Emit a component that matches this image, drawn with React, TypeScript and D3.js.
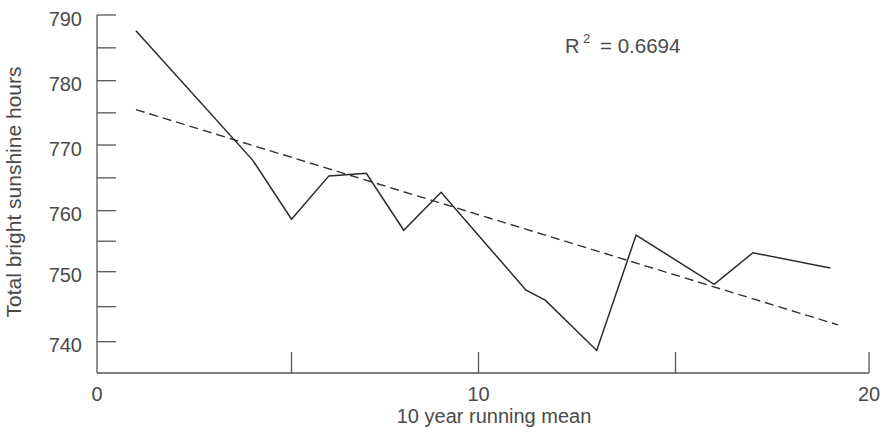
import React from "react";
import * as d3 from "d3";

// 10-year running mean of total bright sunshine hours
const meanIndex = [1, 4, 5, 6, 7, 8, 9, 11.2, 11.7, 13, 14, 16, 17, 19];
const sunshineHours = [787.6, 767.7, 758.6, 765.3, 765.7, 756.8, 762.8, 747.4, 745.9, 738.6, 756.0, 748.2, 753.1, 750.6];

// Linear trend line end points
const trendIndex = [1, 19.2];
const trendHours = [775.5, 742.4];

const xTickValues = [0, 5, 10, 15, 20];
const xTickLabels = ["0", "", "10", "", "20"];
const yMajorTicks = [740, 750, 760, 770, 780, 790];
const yMinorTicks = [745, 755, 765, 775, 785];
const rSquared = "0.6694";

const WIDTH = 889;
const HEIGHT = 443;
const FONT = "'Liberation Sans', Arial, Helvetica, sans-serif";
const AXIS_COLOR = "#555";
const TEXT_COLOR = "#4a4a4a";

export default function App() {
  // Calibrated (polylinear) scales following the printed axis divisions
  const x = d3
    .scaleLinear()
    .domain([0, 5, 10, 15, 20])
    .range([97, 291.5, 478.5, 675.5, 869]);
  const y = d3
    .scaleLinear()
    .domain([735, 740, 750, 760, 770, 780, 790])
    .range([373, 341.7, 271.7, 210.7, 145, 80.7, 15]);

  const line = d3
    .line<[number, number]>()
    .x((d) => x(d[0]))
    .y((d) => y(d[1]));

  const series: [number, number][] = meanIndex.map((m, i) => [m, sunshineHours[i]]);
  const trend: [number, number][] = trendIndex.map((m, i) => [m, trendHours[i]]);

  const x0 = x(0);
  const y0 = y(735);
  const tickLen = 19;

  return (
    <svg
      width={WIDTH}
      height={HEIGHT}
      style={{ position: "absolute", left: 0, top: 0, background: "#fff" }}
      fontFamily={FONT}
    >
      {/* axes */}
      <line x1={x0} y1={y(790)} x2={x0} y2={y0} stroke={AXIS_COLOR} strokeWidth={1.3} />
      <line x1={x0} y1={y0} x2={x(20)} y2={y0} stroke={AXIS_COLOR} strokeWidth={1.3} />

      {/* y ticks, drawn inward */}
      {[...yMajorTicks, ...yMinorTicks].map((t) => (
        <line key={`yt${t}`} x1={x0} x2={x0 + tickLen} y1={y(t)} y2={y(t)} stroke={AXIS_COLOR} strokeWidth={1.3} />
      ))}
      {yMajorTicks.map((t) => (
        <text key={`yl${t}`} x={82} y={y(t) + 10.5} textAnchor="end" fontSize={20} fill={TEXT_COLOR}>
          {t}
        </text>
      ))}

      {/* x ticks, drawn inward */}
      {xTickValues
        .filter((t) => t > 0)
        .map((t) => (
          <line key={`xt${t}`} x1={x(t)} x2={x(t)} y1={y0} y2={y0 - 21} stroke={AXIS_COLOR} strokeWidth={1.3} />
        ))}
      {xTickValues.map((t, i) =>
        xTickLabels[i] ? (
          <text key={`xl${t}`} x={x(t)} y={401} textAnchor="middle" fontSize={20} fill={TEXT_COLOR}>
            {xTickLabels[i]}
          </text>
        ) : null
      )}

      {/* axis titles */}
      <text x={494} y={423} textAnchor="middle" fontSize={20} fill={TEXT_COLOR}>
        10 year running mean
      </text>
      <text
        transform={`translate(21, 192) rotate(-90)`}
        textAnchor="middle"
        fontSize={21}
        fill={TEXT_COLOR}
      >
        Total bright sunshine hours
      </text>

      {/* trend line */}
      <path d={line(trend) || ""} fill="none" stroke="#333" strokeWidth={1.4} strokeDasharray="9 5" />

      {/* running mean */}
      <path d={line(series) || ""} fill="none" stroke="#2a2a2a" strokeWidth={1.5} strokeLinejoin="miter" />

      {/* coefficient of determination */}
      <text x={565} y={53} fontSize={20} fill={TEXT_COLOR}>
        R
      </text>
      <text x={583} y={43} fontSize={13} fill={TEXT_COLOR}>
        2
      </text>
      <text x={600} y={53} fontSize={20.5} fill={TEXT_COLOR}>
        = {rSquared}
      </text>
    </svg>
  );
}
